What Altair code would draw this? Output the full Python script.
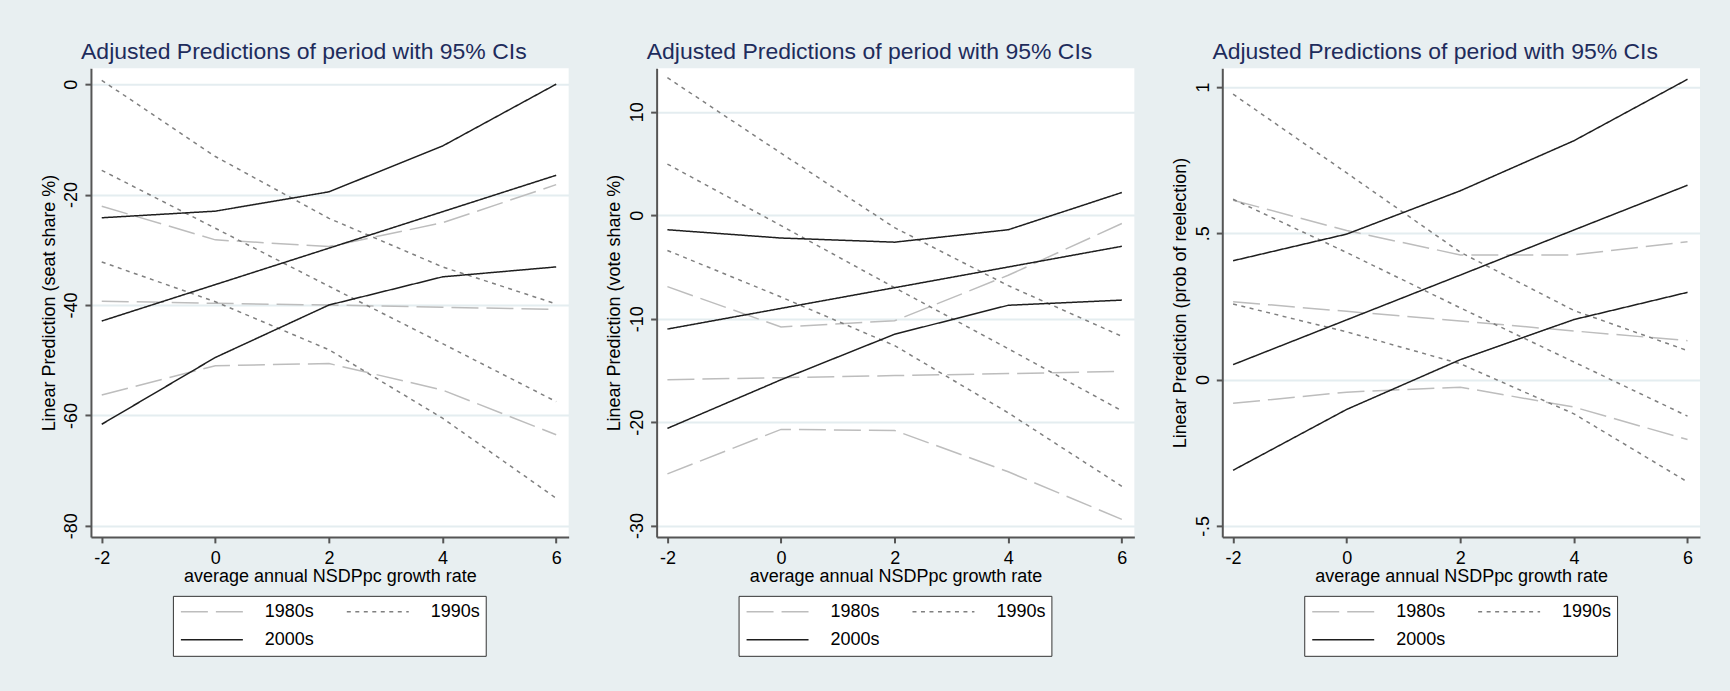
import altair as alt
import pandas as pd

# ---------------- data ----------------
x_values = [-2, 0, 2, 4, 6]
periods = ["1980s", "1990s", "2000s"]

# Panel 1: seat share %
seat_1980s_upper = [-22.1, -28.2, -29.4, -25.1, -18.2]
seat_1980s_mid = [-39.3, -39.7, -40.0, -40.4, -40.8]
seat_1980s_lower = [-56.3, -51.0, -50.6, -55.4, -63.5]
seat_1990s_upper = [0.7, -13.1, -24.3, -33.1, -39.8]
seat_1990s_mid = [-15.6, -26.1, -36.6, -47.0, -57.5]
seat_1990s_lower = [-32.2, -39.4, -48.1, -60.5, -75.0]
seat_2000s_upper = [-24.2, -23.0, -19.5, -11.2, 0.0]
seat_2000s_mid = [-42.9, -36.3, -29.7, -23.1, -16.5]
seat_2000s_lower = [-61.6, -49.5, -40.0, -34.9, -33.1]

# Panel 2: vote share %
vote_1980s_upper = [-6.9, -10.8, -10.2, -5.8, -0.8]
vote_1980s_mid = [-15.9, -15.7, -15.5, -15.3, -15.1]
vote_1980s_lower = [-25.0, -20.7, -20.8, -24.8, -29.4]
vote_1990s_upper = [13.3, 6.0, -1.2, -6.8, -11.7]
vote_1990s_mid = [4.95, -1.0, -7.0, -12.9, -18.9]
vote_1990s_lower = [-3.4, -7.9, -12.6, -19.1, -26.2]
vote_2000s_upper = [-1.4, -2.2, -2.6, -1.4, 2.2]
vote_2000s_mid = [-11.0, -9.0, -7.0, -5.0, -3.0]
vote_2000s_lower = [-20.6, -15.9, -11.5, -8.7, -8.2]

# Panel 3: prob of reelection
prob_1980s_upper = [0.613, 0.509, 0.426, 0.426, 0.471]
prob_1980s_mid = [0.266, 0.233, 0.200, 0.166, 0.133]
prob_1980s_lower = [-0.081, -0.043, -0.026, -0.094, -0.205]
prob_1990s_upper = [0.975, 0.706, 0.435, 0.236, 0.099]
prob_1990s_mid = [0.616, 0.434, 0.245, 0.060, -0.125]
prob_1990s_lower = [0.258, 0.163, 0.054, -0.117, -0.350]
prob_2000s_upper = [0.406, 0.497, 0.645, 0.816, 1.026]
prob_2000s_mid = [0.051, 0.204, 0.357, 0.511, 0.664]
prob_2000s_lower = [-0.310, -0.102, 0.068, 0.205, 0.298]

# tick values and labels
seat_ticks = [0, -20, -40, -60, -80]
seat_labels = ["0", "-20", "-40", "-60", "-80"]
vote_ticks = [10, 0, -10, -20, -30]
vote_labels = ["10", "0", "-10", "-20", "-30"]
prob_ticks = [1, 0.5, 0, -0.5]
prob_labels = ["1", ".5", "0", "-.5"]
x_tick_labels = ["-2", "0", "2", "4", "6"]

chart_title = "Adjusted Predictions of period with 95% CIs"
x_title = "average annual NSDPpc growth rate"
seat_title = "Linear Prediction (seat share %)"
vote_title = "Linear Prediction (vote share %)"
prob_title = "Linear Prediction (prob of reelection)"

# ---------------- styling ----------------
FONT = "Liberation Sans"
period_colors = ["#bdbdbd", "#808080", "#1e1e1e"]
period_dashes = [[27, 8], [4, 4.5], [1, 0]]
period_widths = [1.5, 1.5, 1.7]
W, H = 478, 469


def build_df(series):
    rows = []
    for period, bounds in series.items():
        for bound, ys in bounds.items():
            for xv, yv in zip(x_values, ys):
                rows.append({"period": period, "bound": bound, "x": xv, "y": yv})
    return pd.DataFrame(rows)


def label_expr(ticks, labels):
    parts = [f"datum.value == {t} ? '{l}'" for t, l in zip(ticks, labels)]
    return " : ".join(parts) + " : datum.label"


def make_legend():
    return alt.Legend(
        title=None, orient="none", legendX=82, legendY=528, columns=2,
        direction="horizontal",
        symbolType="stroke", symbolSize=3844, symbolStrokeWidth=1.6,
        clipHeight=22, rowPadding=6, columnPadding=29, padding=5,
        labelOffset=21, symbolOffset=2, labelFontSize=18, labelFont=FONT,
        labelColor="black", strokeColor="#333333", fillColor="white",
        labelLimit=0, cornerRadius=0,
    )


def make_panel(df, y_title, y_domain, ticks, labels):
    return alt.Chart(df).mark_line().encode(
        x=alt.X("x:Q",
                scale=alt.Scale(domain=[-2.19, 6.22], nice=False, zero=False),
                axis=alt.Axis(values=x_values, title=x_title, grid=False,
                              labelExpr=label_expr(x_values, x_tick_labels),
                              labelPadding=7, titleY=45, titleX=W / 2,
                              titleBaseline="alphabetic", titleAlign="center")),
        y=alt.Y("y:Q",
                scale=alt.Scale(domain=y_domain, nice=False, zero=False),
                axis=alt.Axis(values=ticks, title=y_title, grid=True,
                              labelExpr=label_expr(ticks, labels),
                              labelAngle=270, labelAlign="center",
                              labelBaseline="alphabetic", labelPadding=8,
                              titleAngle=270, titleX=-36.7, titleY=H / 2,
                              titleAlign="center", titleBaseline="alphabetic")),
        color=alt.Color("period:N", scale=alt.Scale(domain=periods, range=period_colors),
                        legend=make_legend()),
        strokeDash=alt.StrokeDash("period:N", scale=alt.Scale(domain=periods, range=period_dashes),
                                  legend=make_legend()),
        strokeWidth=alt.StrokeWidth("period:N", scale=alt.Scale(domain=periods, range=period_widths),
                                    legend=None),
        detail="bound:N",
    ).properties(
        width=W, height=H,
        title=alt.TitleParams(text=chart_title, fontSize=23, font=FONT, fontWeight="normal",
                              color="#1e2c5c", anchor="middle", dx=-26, offset=-14,
                              baseline="alphabetic"),
    )


df_seat = build_df({
    "1980s": {"upper": seat_1980s_upper, "mid": seat_1980s_mid, "lower": seat_1980s_lower},
    "1990s": {"upper": seat_1990s_upper, "mid": seat_1990s_mid, "lower": seat_1990s_lower},
    "2000s": {"upper": seat_2000s_upper, "mid": seat_2000s_mid, "lower": seat_2000s_lower},
})
df_vote = build_df({
    "1980s": {"upper": vote_1980s_upper, "mid": vote_1980s_mid, "lower": vote_1980s_lower},
    "1990s": {"upper": vote_1990s_upper, "mid": vote_1990s_mid, "lower": vote_1990s_lower},
    "2000s": {"upper": vote_2000s_upper, "mid": vote_2000s_mid, "lower": vote_2000s_lower},
})
df_prob = build_df({
    "1980s": {"upper": prob_1980s_upper, "mid": prob_1980s_mid, "lower": prob_1980s_lower},
    "1990s": {"upper": prob_1990s_upper, "mid": prob_1990s_mid, "lower": prob_1990s_lower},
    "2000s": {"upper": prob_2000s_upper, "mid": prob_2000s_mid, "lower": prob_2000s_lower},
})

p1 = make_panel(df_seat, seat_title, [-82.0, 2.9], seat_ticks, seat_labels)
p2 = make_panel(df_vote, vote_title, [-31.09, 14.22], vote_ticks, vote_labels)
p3 = make_panel(df_prob, prob_title, [-0.5376, 1.064], prob_ticks, prob_labels)

chart = alt.hconcat(p1, p2, p3, spacing=88, bounds="flush").resolve_scale(
    x="independent", y="independent", color="independent",
    strokeDash="independent", strokeWidth="independent",
).resolve_legend(
    color="independent", strokeDash="independent",
).configure(
    background="#e8eff1",
    padding={"left": 40, "top": 41, "right": 30, "bottom": 38},
).configure_view(
    fill="white", strokeWidth=0,
).configure_axis(
    domainColor="#555555", domainWidth=2, tickColor="#555555", tickWidth=2,
    tickSize=6, labelFont=FONT, labelFontSize=18, labelColor="black",
    titleFont=FONT, titleFontSize=18, titleFontWeight="normal", titleColor="black",
    gridColor="#e4edf0", gridWidth=2,
)

chart.save("out.html", embed_options={"renderer": "svg", "actions": False})
